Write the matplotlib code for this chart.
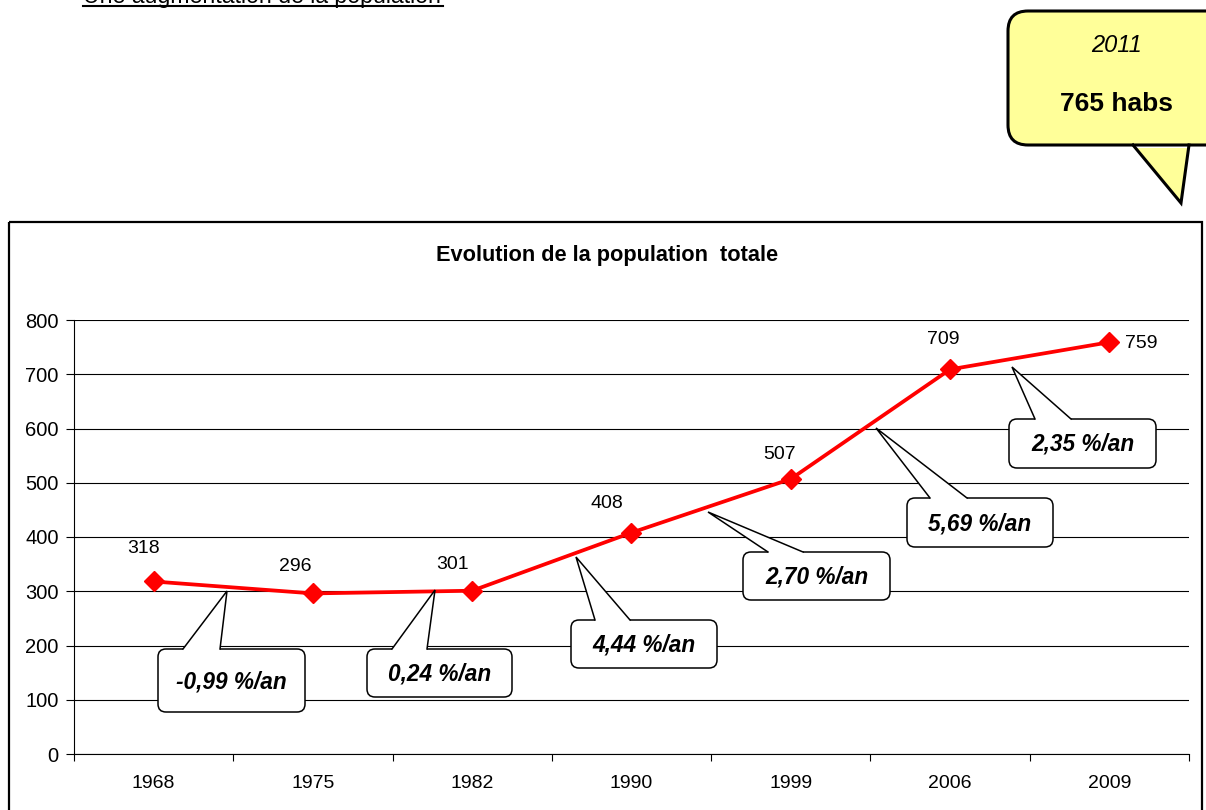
import matplotlib
matplotlib.use('Agg')
import numpy as np
import matplotlib.pyplot as plt
import matplotlib.transforms as mtransforms
from matplotlib.patches import FancyBboxPatch, Polygon, Rectangle
from matplotlib.lines import Line2D

# ---------------- data ----------------
years = ['1968', '1975', '1982', '1990', '1999', '2006', '2009']
population = [318, 296, 301, 408, 507, 709, 759]
growth_labels = ['-0,99 %/an', '0,24 %/an', '4,44 %/an', '2,70 %/an', '5,69 %/an', '2,35 %/an']
y_ticks = [0, 100, 200, 300, 400, 500, 600, 700, 800]
title = 'Evolution de la population  totale'
heading = 'Une augmentation de la population'
bubble_year = '2011'
bubble_value = '765 habs'

# ---------------- styles / layout ----------------
plt.rcParams['font.family'] = ['Liberation Sans', 'DejaVu Sans']
W, H = 1206, 810
fig = plt.figure(figsize=(W / 100, H / 100), dpi=100)
fig.patch.set_facecolor('white')
# pixel transform (x right, y down)
px = mtransforms.Affine2D().scale(1 / 100, -1 / 100).translate(0, H / 100) + fig.dpi_scale_trans

# heading (cut at top of page, as in the source)
fig.text(83, 3, heading, transform=px, fontsize=16.7, ha='left', va='baseline', color='black')
fig.add_artist(Line2D([83, 443], [5.5, 5.5], transform=px, color='black', lw=1.5))

# chart frame
fig.add_artist(Rectangle((9, 222), 1193, 600, transform=px, fill=False, ec='black', lw=1.6))

# title
fig.text(607, 255, title, transform=px, fontsize=15.7, fontweight='bold', ha='center', va='center')

# axes
ax = fig.add_axes([74 / W, 1 - 754 / H, 1115 / W, 434 / H])
x = np.arange(len(years))
ax.plot(x, population, color='red', lw=2.7, marker='D', ms=10, mfc='red', mec='red', zorder=3, clip_on=False)
ax.set_xlim(-0.5, len(years) - 0.5)
ax.set_ylim(0, 800)
ax.set_yticks(y_ticks)
ax.grid(axis='y', color='black', lw=0.8)
ax.set_axisbelow(True)
ax.set_xticks(x)
ax.set_xticklabels(years)
ax.set_xticks(np.arange(-0.5, len(years), 1), minor=True)
ax.tick_params(axis='x', which='major', length=0, pad=15, labelsize=14)
ax.tick_params(axis='x', which='minor', length=5, width=0.8, direction='out')
ax.tick_params(axis='y', length=6, width=0.8, pad=5, direction='out', labelsize=14.5)
for s in ['top', 'right']:
    ax.spines[s].set_visible(False)
for s in ['left', 'bottom']:
    ax.spines[s].set_color('black')
    ax.spines[s].set_linewidth(0.8)

# data labels
label_offsets = [(-10, 33), (-18, 27), (-20, 26), (-25, 29), (-11, 24), (-7, 30), (32, -1)]
for i, v in enumerate(population):
    ax.annotate(str(v), (x[i], v), xytext=label_offsets[i], textcoords='offset pixels',
                ha='center', va='center', fontsize=14)


def callout(box, base, tip, radius, face, lw, z=5):
    x0, y0, x1, y1 = box
    fig.add_artist(FancyBboxPatch((x0, y0), x1 - x0, y1 - y0,
                                  boxstyle='round,pad=0,rounding_size=%g' % radius,
                                  transform=px, fc=face, ec='black', lw=lw, zorder=z))
    bl, br, by = base
    fig.add_artist(Polygon([(bl, by + 3), (bl, by), tip, (br, by), (br, by + 3)], closed=True,
                           transform=px, fc=face, ec='none', zorder=z + 0.1))
    fig.add_artist(Line2D([bl, tip[0], br], [by, tip[1], by], transform=px,
                          color='black', lw=lw, zorder=z + 0.2, solid_joinstyle='miter'))


# growth callouts (pixel geometry)
call_boxes = [(158, 649, 305, 712), (367, 649, 512, 697), (571, 620, 717, 668),
              (743, 552, 890, 600), (907, 498, 1053, 547), (1009, 419, 1156, 468)]
call_bases = [(183, 220), (392, 427), (595, 630), (768, 803), (930, 967), (1035, 1071)]
call_tips = [(227, 591), (435, 590), (576, 557), (708, 512), (876, 428), (1012, 367)]
for lbl, b, bs, t in zip(growth_labels, call_boxes, call_bases, call_tips):
    callout(b, (bs[0], bs[1], b[1]), t, 8, 'white', 1.1)
    fig.text((b[0] + b[2]) / 2, (b[1] + b[3]) / 2 + 1, lbl, transform=px, fontsize=16.3,
             fontweight='bold', fontstyle='italic', ha='center', va='center', zorder=6)

# yellow bubble
callout((1008, 11, 1232, 145), (1133, 1189, 145), (1181, 203), 20, '#FFFF99', 2.2)
fig.text(1117, 45, bubble_year, transform=px, fontsize=17, fontstyle='italic',
         ha='center', va='center', zorder=6)
fig.text(1117, 104, bubble_value, transform=px, fontsize=19, fontweight='bold',
         ha='center', va='center', zorder=6)

fig.savefig('out.png', dpi=100)
